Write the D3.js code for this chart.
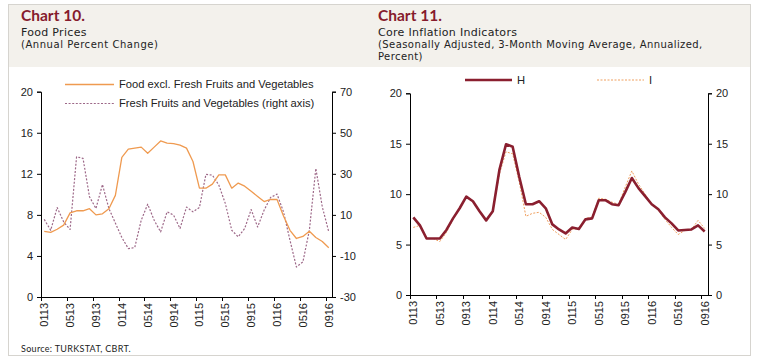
<!DOCTYPE html>
<html>
<head>
<meta charset="utf-8">
<script src="https://cdn.jsdelivr.net/npm/d3@7"></script>
<style>
  body { margin: 0; background: #fff; }
  svg { display: block; }
  .ax text { font-family: "Liberation Sans", Arial, sans-serif; font-size: 11px; fill: #222; }
</style>
</head>
<body>
<svg id="fig" width="757" height="363"></svg>
<script>
// months Jan 2013 .. Sep 2016, labelled MMYY
var months = [];
for (var yr = 13; yr <= 16; yr++) {
    for (var mo = 1; mo <= 12; mo++) {
        if (yr == 16 && mo > 9) break;
        months.push((mo < 10 ? "0" + mo : "" + mo) + yr);
    }
}
var tickMonths = ["0113", "0513", "0913", "0114", "0514", "0914", "0115", "0515", "0915", "0116", "0516", "0916"];

// Chart 10
var foodExcl = [6.4, 6.3, 6.6, 7.0, 8.2, 8.4, 8.4, 8.6, 8.0, 8.1, 8.6, 9.9, 13.6, 14.4, 14.5,
    14.6, 14.0, 14.6, 15.2, 15.0, 14.95, 14.8, 14.5, 13.2, 10.6, 10.6, 11.0, 11.9, 11.9, 10.6,
    11.1, 10.8, 10.3, 9.8, 9.3, 9.5, 9.5, 7.9, 6.5, 5.7, 5.9, 6.4, 5.8, 5.4, 4.8];
var freshFV = [7.8, 2.5, 13.6, 6.6, 2.9, 38.3, 37.5, 18.8, 13.1, 24.8, 13.1, 6.0, -1.0, -6.4, -5.9,
    7.4, 15.2, 7.4, 1.7, 11.5, 9.9, 3.4, 13.8, 11.5, 13.6, 29.7, 29.4, 24.5, 15.6, 2.5,
    -0.7, 3.4, 12.6, 4.1, 12.3, 18.5, 20.1, 11.5, -2.3, -15.4, -12.9, 2.5, 32.6, 13.9, 1.7];
var leftTicks10 = [0, 4, 8, 12, 16, 20];
var rightTicks10 = [-30, -10, 10, 30, 50, 70];

// Chart 11
var coreH = [7.7, 6.9, 5.6, 5.6, 5.6, 6.45, 7.6, 8.6, 9.75, 9.3, 8.3, 7.4, 8.3, 12.4, 14.95,
    14.7, 11.7, 9.0, 9.0, 9.3, 8.6, 7.0, 6.5, 6.1, 6.7, 6.55, 7.5, 7.6, 9.4, 9.4,
    9.0, 8.9, 10.2, 11.6, 10.6, 9.8, 9.0, 8.5, 7.7, 7.1, 6.4, 6.45, 6.5, 6.9, 6.3];
var coreI = [6.7, 6.9, 5.6, 5.6, 5.3, 6.2, 7.5, 8.6, 9.7, 9.3, 8.3, 7.4, 8.3, 12.0, 14.2,
    14.0, 11.2, 7.8, 8.1, 8.2, 7.7, 6.5, 6.0, 5.5, 6.5, 6.6, 7.6, 7.7, 9.6, 9.5,
    9.2, 9.0, 10.7, 12.3, 11.0, 10.0, 9.0, 8.4, 7.5, 6.7, 6.0, 6.4, 6.5, 7.4, 6.6];
var ticks11 = [0, 5, 10, 15, 20];

var svg = d3.select("#fig");

// frame + header band
svg.append("rect").attr("x", 8.5).attr("y", 4.5).attr("width", 742).attr("height", 351)
    .attr("fill", "#fff").attr("stroke", "#d6d4cf");
svg.append("rect").attr("x", 9).attr("y", 5).attr("width", 741).attr("height", 62)
    .attr("fill", "#f3f1ec");

function headerText(x, y, txt, size, font, spacing, weight, color) {
    svg.append("text").attr("x", x).attr("y", y)
        .style("font-family", font).style("font-size", size + "px")
        .style("letter-spacing", (spacing || 0) + "px")
        .style("font-weight", weight || "normal")
        .attr("fill", color || "#222").text(txt);
}
var titleFont = "Lato, 'Open Sans', sans-serif";
var subFont = "'DejaVu Sans', Verdana, sans-serif";
headerText(21, 21, "Chart 10.", 15.5, titleFont, 0, "bold", "#861b2d");
headerText(21, 36, "Food Prices", 11, subFont, 0.3);
headerText(21, 48, "(Annual Percent Change)", 10, subFont, 0.55);
headerText(378, 21, "Chart 11.", 15.5, titleFont, 0, "bold", "#861b2d");
headerText(378, 36, "Core Inflation Indicators", 11, subFont, 0.3);
headerText(378, 48, "(Seasonally Adjusted, 3-Month Moving Average, Annualized,", 10, subFont, 0.42);
headerText(378, 60, "Percent)", 10, subFont, 0.42);
headerText(21, 352, "Source: TURKSTAT, CBRT.", 9, titleFont, 0.3);

function plainNum(d) { return String(d); }   // keep "-" not the unicode minus

function drawPanel(cfg) {
    var g = svg.append("g");
    var x = d3.scaleBand().domain(months).range([cfg.left, cfg.right]).padding(0);
    var bw = x.bandwidth();
    var yL = d3.scaleLinear().domain(cfg.leftDomain).range([cfg.bottom, cfg.top]);
    var yR = d3.scaleLinear().domain(cfg.rightDomain).range([cfg.bottom, cfg.top]);

    g.append("g").attr("class", "ax").attr("transform", "translate(" + cfg.left + ",0)")
        .call(d3.axisLeft(yL).tickValues(cfg.leftTicks).tickSize(4).tickPadding(4).tickFormat(plainNum));
    g.append("g").attr("class", "ax").attr("transform", "translate(" + cfg.right + ",0)")
        .call(d3.axisRight(yR).tickValues(cfg.rightTicks).tickSize(4).tickPadding(4).tickFormat(plainNum));

    // category axis: ticks on band edges, labels in band centres
    var bx = g.append("g").attr("class", "ax");
    bx.append("line").attr("x1", cfg.left).attr("x2", cfg.right)
        .attr("y1", cfg.bottom + 0.5).attr("y2", cfg.bottom + 0.5).attr("stroke", "#000");
    bx.selectAll("line.tk").data(tickMonths).enter().append("line").attr("class", "tk")
        .attr("x1", function (d) { return Math.round(x(d)) + 0.5; })
        .attr("x2", function (d) { return Math.round(x(d)) + 0.5; })
        .attr("y1", cfg.bottom).attr("y2", cfg.bottom + 4).attr("stroke", "#000");
    bx.selectAll("text").data(tickMonths).enter().append("text")
        .attr("transform", function (d) {
            return "translate(" + (x(d) + bw / 2 + 4) + "," + (cfg.bottom + 6) + ") rotate(-90)";
        })
        .attr("text-anchor", "end").text(function (d) { return d; });

    g.selectAll(".ax .domain").attr("stroke", "#000");

    cfg.series.forEach(function (s) {
        var y = s.axis == "right" ? yR : yL;
        var line = d3.line()
            .x(function (d, i) { return x(months[i]) + bw / 2; })
            .y(function (d) { return y(d); });
        g.append("path").datum(s.values).attr("d", line)
            .attr("fill", "none").attr("stroke", s.color).attr("stroke-width", s.width)
            .attr("stroke-dasharray", s.dash || null).attr("stroke-linejoin", "round");
    });

    cfg.legend.forEach(function (l) {
        g.append("line").attr("x1", l.x).attr("x2", l.x + l.len).attr("y1", l.y).attr("y2", l.y)
            .attr("stroke", l.s.color).attr("stroke-width", l.s.width)
            .attr("stroke-dasharray", l.s.dash || null);
        g.append("text").attr("x", l.x + l.len + 5).attr("y", l.y).attr("dy", "0.35em")
            .style("font-family", "'Liberation Sans', Arial, sans-serif").style("font-size", "11.2px")
            .attr("fill", "#222").text(l.label);
    });
}

var sFood = {values: foodExcl, color: "#ef9a50", width: 1.3, axis: "left"};
var sFresh = {values: freshFV, color: "#9d6888", width: 1.2, dash: "2,1.6", axis: "right"};
var sH = {values: coreH, color: "#8a1f2f", width: 2.6, axis: "left"};
var sI = {values: coreI, color: "#ef9f5e", width: 1, dash: "2,1.5", axis: "left"};

drawPanel({
    left: 41, right: 332, top: 91.7, bottom: 297,
    leftDomain: [0, 20], rightDomain: [-30, 70],
    leftTicks: leftTicks10, rightTicks: rightTicks10,
    series: [sFresh, sFood],
    legend: [
        {x: 65, y: 84.5, len: 49, s: sFood, label: "Food excl. Fresh Fruits and Vegetables"},
        {x: 65, y: 103.5, len: 49, s: sFresh, label: "Fresh Fruits and Vegetables (right axis)"}
    ]
});

drawPanel({
    left: 410, right: 708, top: 93.3, bottom: 295,
    leftDomain: [0, 20], rightDomain: [0, 20],
    leftTicks: ticks11, rightTicks: ticks11,
    series: [sI, sH],
    legend: [
        {x: 465, y: 80, len: 47, s: sH, label: "H"},
        {x: 597, y: 80, len: 47, s: sI, label: "I"}
    ]
});
</script>
</body>
</html>
